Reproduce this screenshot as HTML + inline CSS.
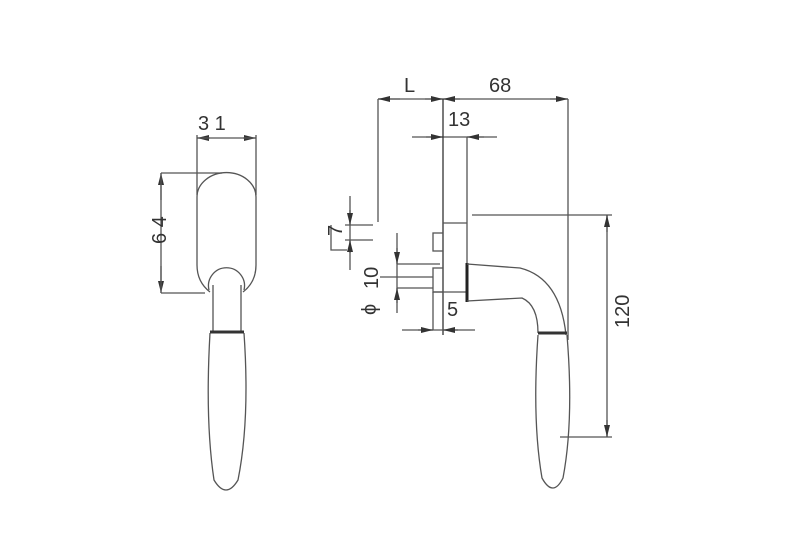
<!DOCTYPE html>
<html><head><style>body{margin:0;background:#fff}svg{display:block}text{font-family:"Liberation Sans",sans-serif;font-size:20px;fill:#333}</style></head>
<body><svg width="800" height="550" viewBox="0 0 800 550">
<defs><marker id="a" markerWidth="12" markerHeight="8" refX="12" refY="4" orient="auto" markerUnits="userSpaceOnUse"><path d="M0,1 L12,4 L0,7z" fill="#333"/></marker></defs>
<g stroke="#555" stroke-width="1.3" fill="none">
<!-- left view -->
<line x1="197" y1="135" x2="197" y2="195"/><line x1="256" y1="135" x2="256" y2="195"/>
<line x1="210" y1="138" x2="197" y2="138" marker-end="url(#a)"/><line x1="243" y1="138" x2="256" y2="138" marker-end="url(#a)"/>
<line x1="197" y1="138" x2="256" y2="138"/>
<line x1="161" y1="173" x2="222" y2="173"/><line x1="161" y1="293" x2="205" y2="293"/>
<line x1="161" y1="200" x2="161" y2="173" marker-end="url(#a)"/><line x1="161" y1="266" x2="161" y2="293" marker-end="url(#a)"/>
<line x1="161" y1="173" x2="161" y2="293"/>
<path d="M210,292 Q197,282 197,265 L197,197 A29,24 0 0 1 256,197 L256,265 Q256,282 243,292"/>
<path d="M209,290 A18,18 0 1 1 244,290"/>
<path d="M213,285 L213,332 M241,285 L241,332"/>
<path d="M210,333 Q205,420 214,480 Q226,500 238,480 Q250,420 244,333"/>
<line x1="210" y1="332" x2="244" y2="332" stroke-width="3" stroke="#333"/>
<!-- right view dims -->
<line x1="378" y1="99" x2="568" y2="99"/>
<line x1="400" y1="99" x2="378" y2="99" marker-end="url(#a)"/><line x1="425" y1="99" x2="443" y2="99" marker-end="url(#a)"/>
<line x1="460" y1="99" x2="443" y2="99" marker-end="url(#a)"/><line x1="550" y1="99" x2="568" y2="99" marker-end="url(#a)"/>
<line x1="378" y1="99" x2="378" y2="222"/>
<line x1="568" y1="99" x2="568" y2="340"/>
<line x1="412" y1="137" x2="497" y2="137"/>
<line x1="426" y1="137" x2="443" y2="137" marker-end="url(#a)"/><line x1="484" y1="137" x2="467" y2="137" marker-end="url(#a)"/>
<line x1="443" y1="99" x2="443" y2="335" stroke="#333"/>
<line x1="467" y1="137" x2="467" y2="295"/>
<line x1="443" y1="223" x2="467" y2="223"/>
<line x1="472" y1="215" x2="612" y2="215"/><line x1="560" y1="437" x2="612" y2="437"/>
<line x1="607" y1="215" x2="607" y2="437"/>
<line x1="607" y1="232" x2="607" y2="215" marker-end="url(#a)"/><line x1="607" y1="420" x2="607" y2="437" marker-end="url(#a)"/>
<!-- 7 dim -->
<line x1="350" y1="196" x2="350" y2="270"/>
<line x1="350" y1="210" x2="350" y2="225" marker-end="url(#a)"/><line x1="350" y1="253" x2="350" y2="240" marker-end="url(#a)"/>
<line x1="345" y1="225" x2="373" y2="225"/><line x1="345" y1="240" x2="373" y2="240"/>
<path d="M331,225 L331,250 L347,250"/>
<!-- plate details -->
<rect x="433" y="233" width="10" height="18"/>
<rect x="433" y="268" width="10" height="24"/>
<line x1="397" y1="264" x2="440" y2="264"/><line x1="380" y1="277" x2="433" y2="277"/><line x1="397" y1="288" x2="433" y2="288"/>
<line x1="433" y1="292" x2="467" y2="292"/>
<line x1="397" y1="233" x2="397" y2="313"/>
<line x1="397" y1="248" x2="397" y2="264" marker-end="url(#a)"/><line x1="397" y1="303" x2="397" y2="288" marker-end="url(#a)"/>
<line x1="433" y1="292" x2="433" y2="330"/>
<line x1="402" y1="330" x2="475" y2="330"/>
<line x1="418" y1="330" x2="433" y2="330" marker-end="url(#a)"/><line x1="458" y1="330" x2="443" y2="330" marker-end="url(#a)"/>
<!-- lever -->
<line x1="467" y1="263" x2="467" y2="302" stroke="#222" stroke-width="3"/>
<path d="M467,264 L520,268 Q560,278 566,335"/>
<path d="M467,301 L522,298 Q538,305 538,333"/>
<line x1="538" y1="333" x2="567" y2="333" stroke="#333" stroke-width="3"/>
<path d="M538,335 Q532,420 542,478 Q553,498 563,478 Q574,420 567,335"/>
</g>
<text x="198" y="130">3 1</text>
<text x="140" y="246" transform="rotate(-90 152 232)">6 4</text>
<text x="404" y="92">L</text>
<text x="489" y="92">68</text>
<text x="448" y="126">13</text>
<text x="447" y="316">5</text>
<text x="612" y="325" transform="rotate(-90 622 318)">120</text>
<text x="330" y="232" transform="rotate(-90 338 228)">7</text>
<text x="360" y="283" transform="rotate(-90 372 277)">10</text>
<text x="360" y="311" transform="rotate(-90 370 305)">ϕ</text>
</svg></body></html>
